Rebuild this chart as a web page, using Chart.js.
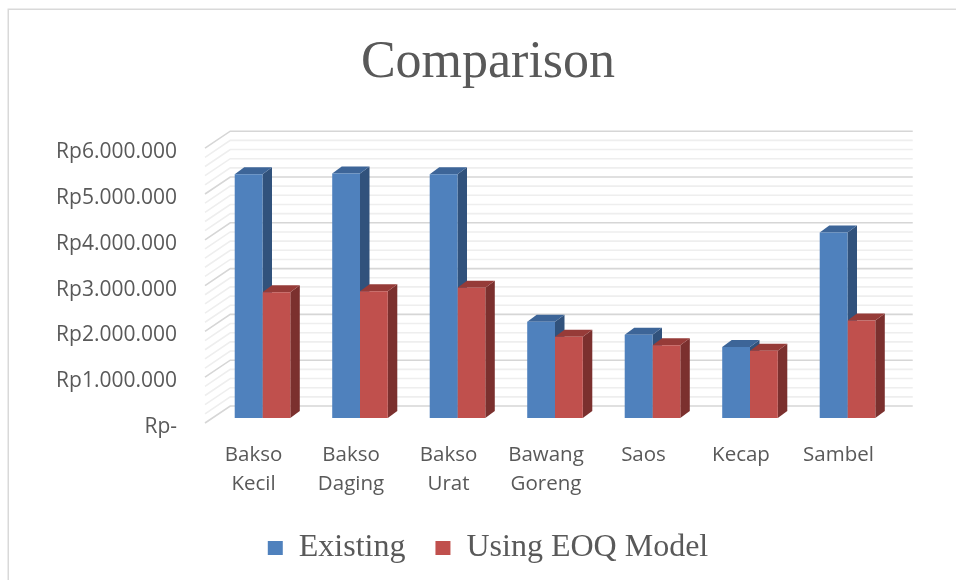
<!DOCTYPE html>
<html>
<head>
<meta charset="utf-8">
<script src="https://cdn.jsdelivr.net/npm/chart.js@4.4.1/dist/chart.umd.min.js"></script>
<style>
  html, body { margin: 0; padding: 0; background: #fff; }
  #wrap { width: 956px; height: 580px; position: relative; }
</style>
</head>
<body>
<div id="wrap"><canvas id="myChart" width="956" height="580"></canvas></div>
<script>
// data
const categories = [['Bakso', 'Kecil'], ['Bakso', 'Daging'], ['Bakso', 'Urat'], ['Bawang', 'Goreng'], ['Saos'], ['Kecap'], ['Sambel']];
const existing = [5320000, 5340000, 5320000, 2100000, 1820000, 1550000, 4050000];
const usingEOQ = [2745000, 2770000, 2845000, 1775000, 1590000, 1470000, 2130000];
const yMin = 0;
const yMax = 6000000;
const yStep = 200000;     // minor grid step
const yLabelStep = 1000000;

const frontColors = ['#4F81BD', '#C0504D'];
const sideColors = ['#31527C', '#7B302E'];
const topColors = ['#3D6598', '#963B38'];

// oblique offsets for the fake 3d look
const bar3d = { dx: 9.5, dy: -7 };
const wallFront = { dx: -8.75, dy: 5 };
const wallBack = { dx: 16.5, dy: -12 };

function rupiah(v) {
  if (v === 0) return 'Rp-';
  return 'Rp' + String(v).replace(/\B(?=(\d{3})+(?!\d))/g, '.');
}

let threeD = {
  id: 'threeD',
  beforeDraw(chart) {
    let ctx = chart.ctx;
    ctx.save();
    ctx.strokeStyle = '#D9D9D9';
    ctx.lineWidth = 1.5;
    ctx.strokeRect(8.25, 9.25, 1200, 1200);
    ctx.restore();
  },
  beforeDatasetsDraw(chart) {
    let ctx = chart.ctx;
    let area = chart.chartArea;
    let y = chart.scales.y;
    ctx.save();
    // walls: back grid + left side diagonals
    y.ticks.forEach(t => {
      let py = y.getPixelForValue(t.value);
      let major = t.value % yLabelStep === 0;
      ctx.strokeStyle = major ? '#D6D6D6' : '#EEEEEE';
      ctx.lineWidth = 1.6;
      ctx.beginPath();
      ctx.moveTo(area.left + wallFront.dx, py + wallFront.dy);
      ctx.lineTo(area.left + wallBack.dx, py + wallBack.dy);
      ctx.lineTo(area.right + wallBack.dx, py + wallBack.dy);
      ctx.stroke();
    });
    // side and top faces of the bars
    chart.data.datasets.forEach((ds, i) => {
      let meta = chart.getDatasetMeta(i);
      meta.data.forEach(bar => {
        let p = bar.getProps(['x', 'y', 'base', 'width'], true);
        let l = p.x - p.width / 2, r = p.x + p.width / 2;
        ctx.fillStyle = sideColors[i];
        ctx.beginPath();
        ctx.moveTo(r, p.y);
        ctx.lineTo(r + bar3d.dx, p.y + bar3d.dy);
        ctx.lineTo(r + bar3d.dx, p.base + bar3d.dy);
        ctx.lineTo(r, p.base);
        ctx.closePath();
        ctx.fill();
        ctx.fillStyle = topColors[i];
        ctx.beginPath();
        ctx.moveTo(l, p.y);
        ctx.lineTo(l + bar3d.dx, p.y + bar3d.dy);
        ctx.lineTo(r + bar3d.dx, p.y + bar3d.dy);
        ctx.lineTo(r, p.y);
        ctx.closePath();
        ctx.fill();
      });
    });
    ctx.restore();
  }
};

Chart.defaults.color = '#595959';
Chart.defaults.font.family = "'Open Sans', sans-serif";

let comparisonChart = new Chart(document.getElementById('myChart').getContext('2d'), {
  type: 'bar',
  data: {
    labels: categories,
    datasets: [{
      label: 'Existing',
      data: existing,
      backgroundColor: frontColors[0],
      borderWidth: 0,
      categoryPercentage: 0.57,
      barPercentage: 1.0
    }, {
      label: 'Using EOQ Model',
      data: usingEOQ,
      backgroundColor: frontColors[1],
      borderWidth: 0,
      categoryPercentage: 0.57,
      barPercentage: 1.0
    }]
  },
  options: {
    responsive: false,
    animation: false,
    layout: { padding: { left: 20, right: 0, top: 0, bottom: 6 } },
    plugins: {
      tooltip: { enabled: false },
      title: {
        display: true,
        text: 'Comparison',
        color: '#595959',
        font: { family: "'Liberation Serif', 'Times New Roman', serif", size: 52, weight: 'normal', lineHeight: 1.2 },
        padding: { top: 32, bottom: 48.8 }
      },
      legend: {
        position: 'bottom',
        labels: {
          color: '#595959',
          font: { family: "'Liberation Serif', 'Times New Roman', serif", size: 32 },
          boxWidth: 15,
          boxHeight: 14,
          padding: 30
        }
      }
    },
    scales: {
      x: {
        grid: { display: false, drawTicks: false },
        border: { display: false },
        ticks: {
          font: { size: 20.5, lineHeight: 1.415 },
          color: '#595959',
          padding: 22.5,
          labelOffset: -9,
          maxRotation: 0,
          autoSkip: false
        },
        afterFit: s => { s.height = 84; }
      },
      y: {
        min: yMin,
        max: yMax,
        grid: { display: false, drawTicks: false },
        border: { display: false },
        ticks: {
          stepSize: yStep,
          autoSkip: false,
          font: { size: 21 },
          color: '#595959',
          padding: 36.75,
          labelOffset: 9,
          callback: v => (v % yLabelStep === 0 ? rupiah(v) : '')
        },
        afterFit: s => { s.width = 193.75; }
      },
      yRight: {
        position: 'right',
        min: 0,
        max: 1,
        grid: { display: false, drawTicks: false },
        border: { display: false },
        ticks: { display: false },
        afterFit: s => { s.width = 59.75; }
      }
    }
  },
  plugins: [threeD]
});
</script>
</body>
</html>
